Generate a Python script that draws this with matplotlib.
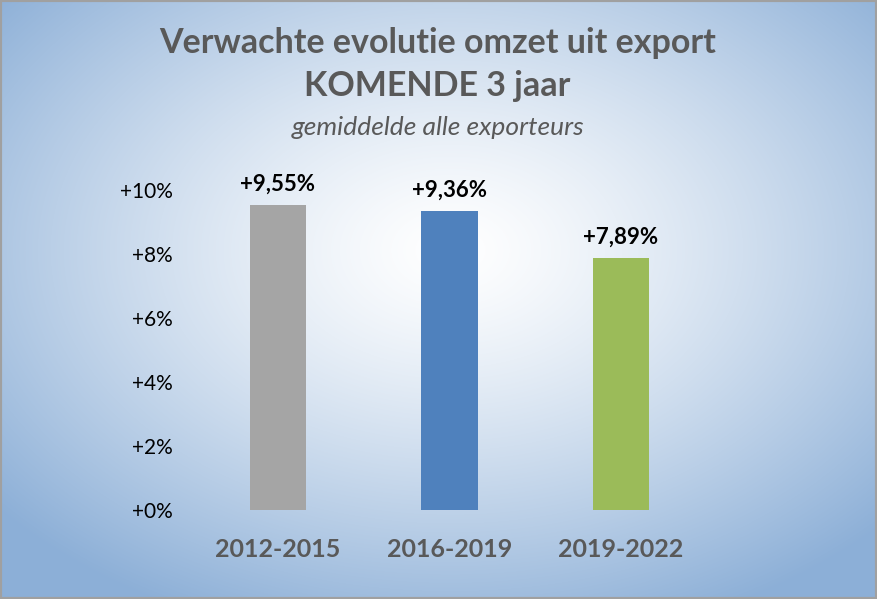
"""Verwachte evolutie omzet uit export - bar chart with radial background."""

import matplotlib.pyplot as plt
import numpy as np
from matplotlib.patches import Rectangle

plt.rcParams["font.family"] = ["Lato", "DejaVu Sans"]

PERIODS = ["2012-2015", "2016-2019", "2019-2022"]
VALUES = [9.55, 9.36, 7.89]
LABELS = ["+9,55%", "+9,36%", "+7,89%"]
COLORS = ["#a5a5a5", "#4f81bd", "#9bbb59"]
YTICKS = [0, 2, 4, 6, 8, 10]

GREY = "#595959"


def background(fig):
    h, w = 599, 877
    yy, xx = np.mgrid[0:h, 0:w]
    dx = (xx - 450) / (w / 2)
    dy = (yy - 250) / (h / 2)
    r = np.clip(np.sqrt(dx ** 2 + dy ** 2) / 1.35, 0, 1)
    edge = np.array([140, 175, 215]) / 255
    t = r[..., None] ** 1.3
    img = (1 - t) * 1.0 + t * edge
    bg = fig.add_axes([0, 0, 1, 1], zorder=-10)
    bg.imshow(img, aspect="auto", extent=[0, 1, 0, 1], origin="upper")
    bg.add_patch(Rectangle((0, 0), 1, 1, transform=bg.transAxes, fill=False,
                           edgecolor="#a0a0a0", linewidth=3))
    bg.set_axis_off()


def main():
    fig = plt.figure(figsize=(8.77, 5.99), dpi=100)
    background(fig)

    ax = fig.add_axes([0.219, 0.1486, 0.587, 0.534])
    ax.patch.set_alpha(0)
    x = np.arange(len(PERIODS))
    bars = ax.bar(x, VALUES, width=0.33, color=COLORS)
    for b, lab in zip(bars, LABELS):
        ax.text(b.get_x() + b.get_width() / 2, b.get_height() + 0.3, lab,
                ha="center", va="bottom", fontsize=16, fontweight="bold", color="black")

    ax.set_xlim(-0.5, 2.5)
    ax.set_ylim(0, 10)
    ax.set_yticks(YTICKS)
    ax.set_yticklabels([f"+{v}%" for v in YTICKS], fontsize=15, color="black")
    ax.set_xticks(x)
    ax.set_xticklabels(PERIODS, fontsize=18, fontweight="bold", color=GREY)
    ax.tick_params(length=0)
    ax.tick_params(axis="x", pad=20)
    ax.tick_params(axis="y", pad=14)
    for s in ax.spines.values():
        s.set_visible(False)

    fig.text(0.499, 0.928, "Verwachte evolutie omzet uit export", ha="center", va="center",
             fontsize=24.5, fontweight="bold", color=GREY)
    fig.text(0.499, 0.856, "KOMENDE 3 jaar", ha="center", va="center",
             fontsize=24.5, fontweight="bold", color=GREY)
    fig.text(0.499, 0.787, "gemiddelde alle exporteurs", ha="center", va="center",
             fontsize=19, style="italic", color=GREY)

    fig.savefig("out.png", dpi=100)


if __name__ == "__main__":
    main()
